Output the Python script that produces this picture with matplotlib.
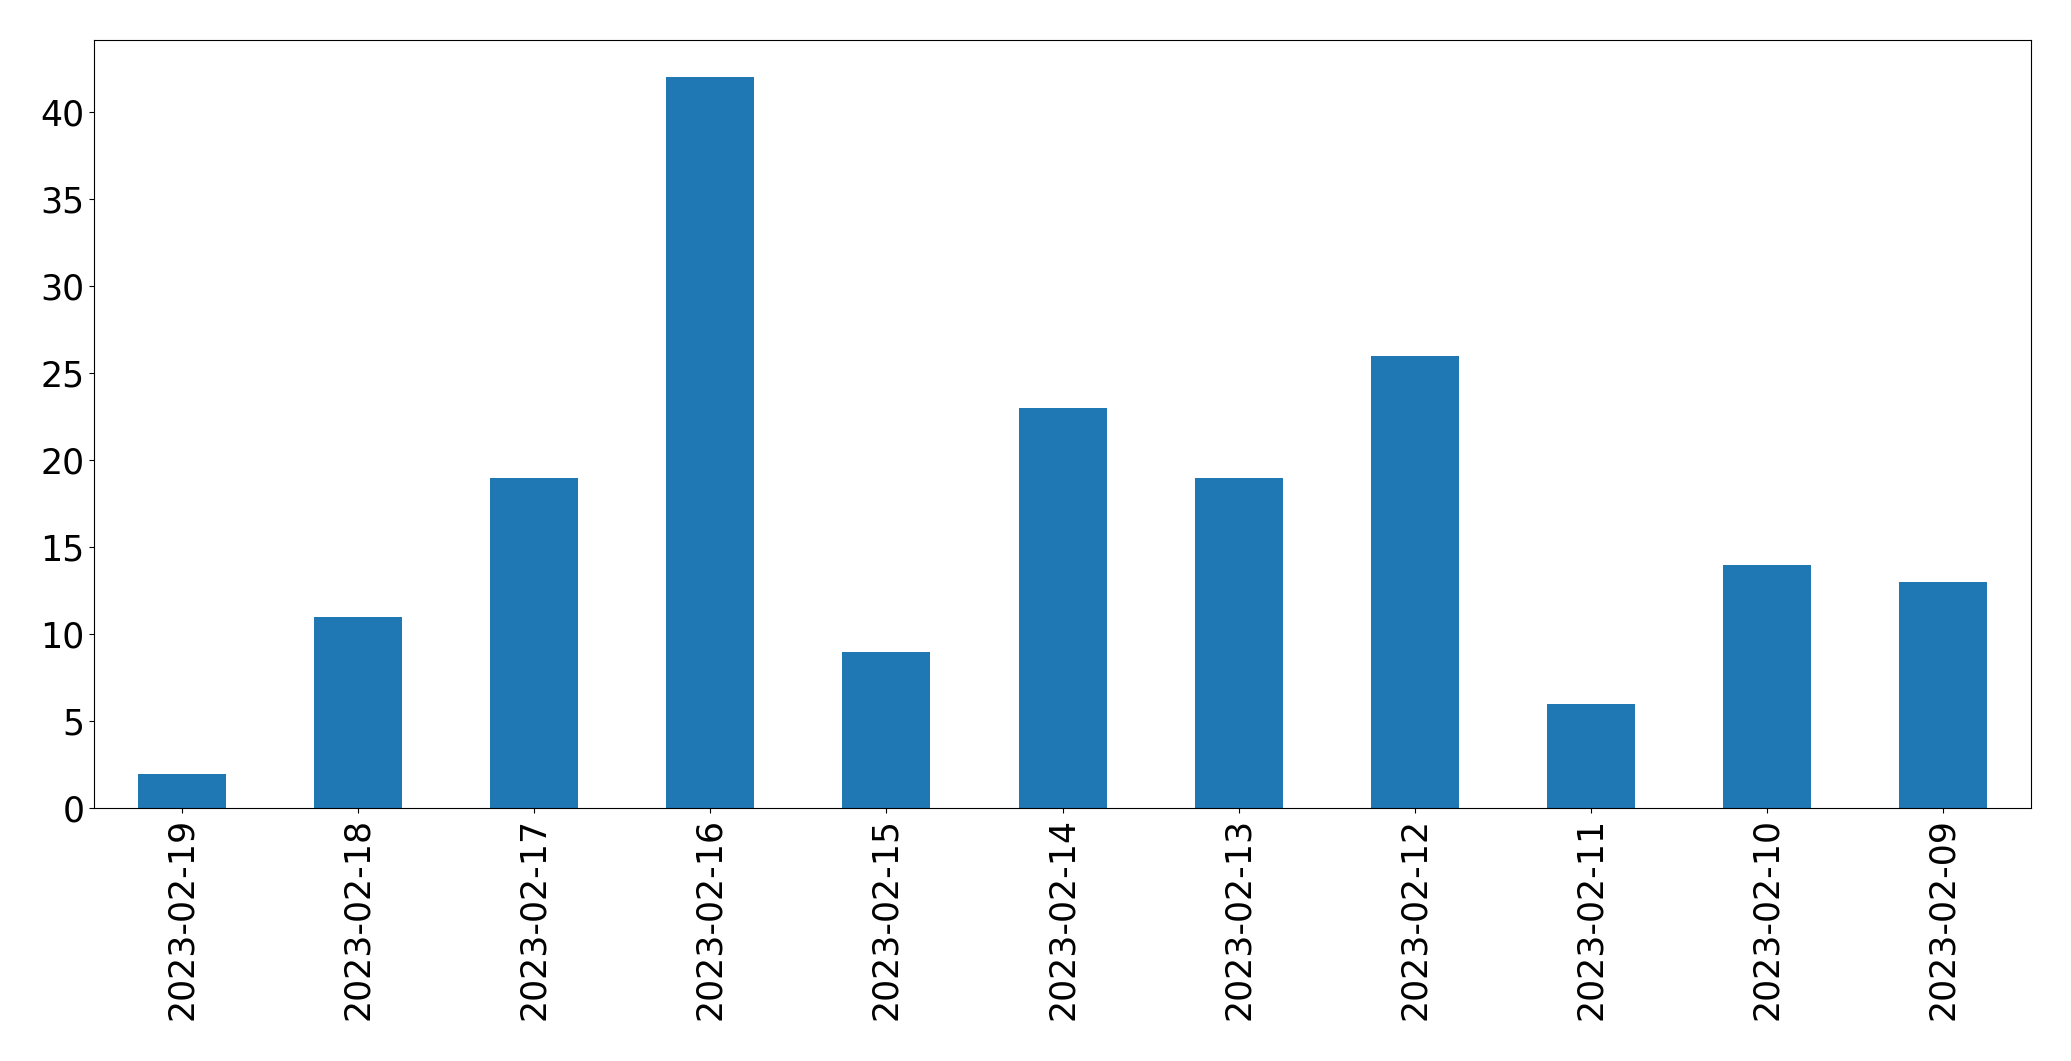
import matplotlib
matplotlib.use("Agg")
import matplotlib.pyplot as plt
import pandas as pd

dates = ['2023-02-19', '2023-02-18', '2023-02-17', '2023-02-16', '2023-02-15',
         '2023-02-14', '2023-02-13', '2023-02-12', '2023-02-11', '2023-02-10',
         '2023-02-09']
counts = [2, 11, 19, 42, 9, 23, 19, 26, 6, 14, 13]

data = pd.Series(counts, index=dates)

fig, ax = plt.subplots(figsize=(20.71, 10.61), dpi=100)
data.plot(kind='bar', ax=ax, color='#1f77b4')

ax.tick_params(axis='both', labelsize=25)
plt.subplots_adjust(left=0.0454, right=0.9807, top=0.962, bottom=0.238)

fig.savefig('out.png', dpi=100)
